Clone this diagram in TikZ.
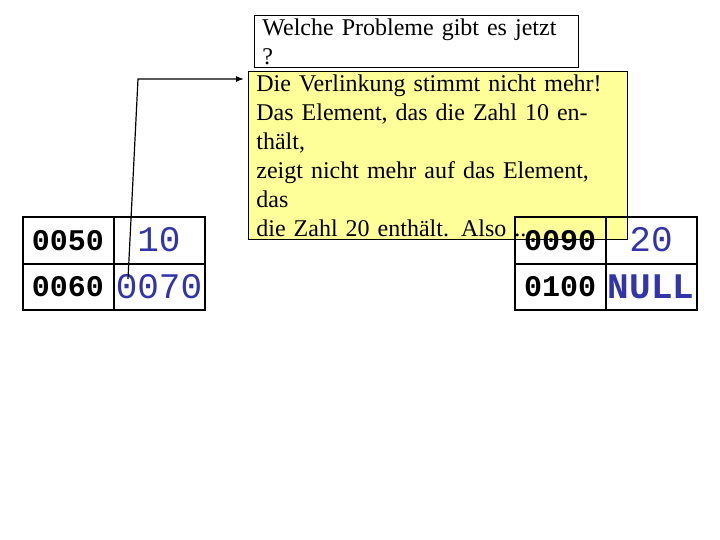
\documentclass[tikz,border=0pt]{standalone}
\usepackage{fontspec}
\usetikzlibrary{arrows.meta}
\setmainfont{Liberation Serif}
\newfontfamily\monof{Liberation Mono}
\definecolor{note}{RGB}{255,255,153}
\definecolor{val}{RGB}{51,51,170}
\begin{document}
\begin{tikzpicture}[x=1pt,y=-1pt,
  cell/.style={draw,line width=2pt,minimum width=91pt,minimum height=46pt,inner sep=0pt},
  adr/.style={font=\monof\bfseries\fontsize{30}{30}\selectfont},
  valt/.style={font=\monof\fontsize{36}{36}\selectfont,text=val},
  box/.style={draw,line width=0.8pt,align=left,font=\fontsize{24}{29}\selectfont,inner xsep=8pt,inner ysep=3pt}]
\useasboundingbox (0,0) rectangle (720,540);
\node[box,fill=white,anchor=north west,text width=308pt,minimum height=36pt] (q) at (254,15) {Welche Probleme gibt es jetzt ?};
\node[box,fill=note,anchor=north west,text width=363pt,minimum height=124pt] (a) at (248,71) {Die Verlinkung stimmt nicht mehr!\\Das Element, das die Zahl 10 enthält,\\zeigt nicht mehr auf das Element, das\\die Zahl 20 enthält. Also ...};
% left element
\node[cell,adr] (l1) at (68,240.5) {0050};
\node[cell,valt] (l2) at (159,240.5) {\raisebox{3pt}{10}};
\node[cell,adr] (l3) at (68,286.5) {0060};
\node[cell,valt] (l4) at (159,286.5) {0070};
% right element
\node[cell,adr] (r1) at (560,240.5) {0090};
\node[cell,valt] (r2) at (651,240.5) {\raisebox{3pt}{20}};
\node[cell,adr] (r3) at (560,286.5) {0100};
\node[cell,valt,font=\monof\bfseries\fontsize{36}{36}\selectfont] (r4) at (651,286.5) {NULL};
\coordinate (s) at (128,279);
\coordinate (k) at (138,79);
\draw[line width=1.2pt,-{Latex[length=8pt,width=6pt]}] (s) -- (k) -- ([xshift=-4pt]a.west |- k);
\end{tikzpicture}
\end{document}
